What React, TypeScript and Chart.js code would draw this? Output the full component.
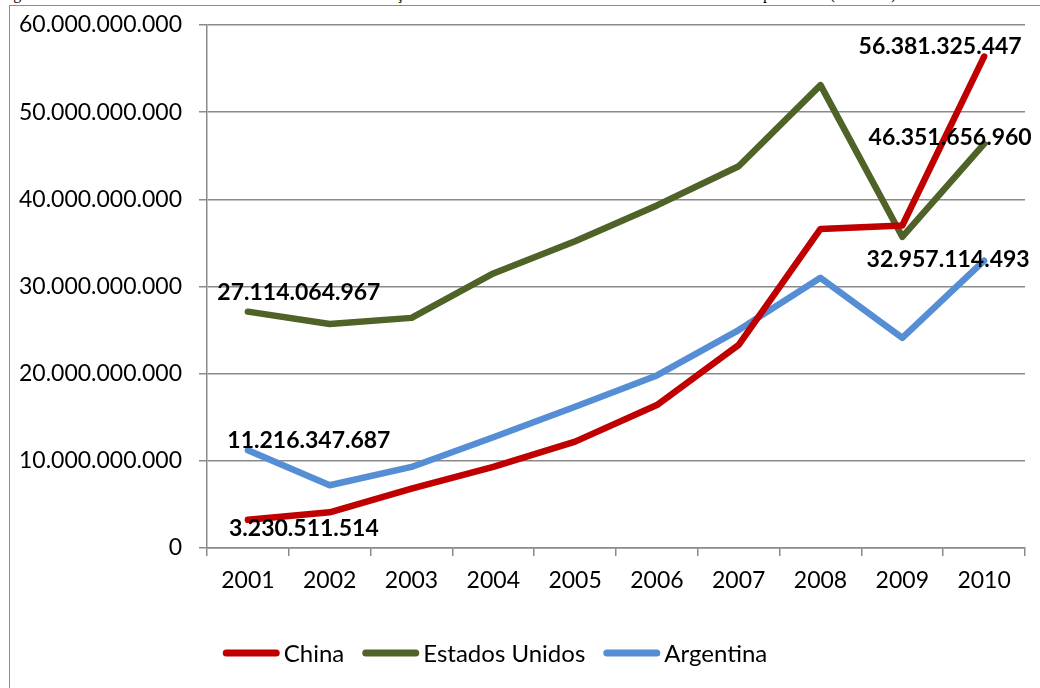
import React, { useEffect, useRef } from "react";
import { Chart, registerables } from "chart.js";

Chart.register(...registerables);

const years = ["2001", "2002", "2003", "2004", "2005", "2006", "2007", "2008", "2009", "2010"];
const china = [3230511514, 4100000000, 6800000000, 9300000000, 12200000000, 16400000000, 23300000000, 36600000000, 37000000000, 56381325447];
const estadosUnidos = [27114064967, 25700000000, 26400000000, 31500000000, 35200000000, 39300000000, 43800000000, 53100000000, 35700000000, 46351656960];
const argentina = [11216347687, 7200000000, 9300000000, 12700000000, 16200000000, 19800000000, 25000000000, 31000000000, 24100000000, 32957114493];
const seriesNames = ["China", "Estados Unidos", "Argentina"];
const seriesColors = ["#C00000", "#4F6228", "#558ED5"];
const yMin = 0;
const yMax = 60000000000;
const yStep = 10000000000;

const FONT = "Lato, 'Open Sans', sans-serif";

const fmt = (v: number) => Math.round(v).toString().replace(/\B(?=(\d{3})+(?!\d))/g, ".");

// label placement offsets (pixels from the point) for the labelled points
const labelOffsets: Record<number, Record<number, [number, number]>> = {
  0: { 0: [56, 9], 9: [-44, -10] },
  1: { 0: [51, -19], 9: [-34, -6] },
  2: { 0: [61, -10], 9: [-36, -1] },
};

const valueLabels = {
  id: "valueLabels",
  afterDatasetsDraw(chart: any) {
    const ctx = chart.ctx;
    ctx.save();
    ctx.font = `bold 23px ${FONT}`;
    ctx.fillStyle = "#000";
    ctx.textAlign = "center";
    ctx.textBaseline = "middle";
    chart.data.datasets.forEach((ds: any, di: number) => {
      const meta = chart.getDatasetMeta(di);
      const offs = labelOffsets[di] || {};
      Object.keys(offs).forEach((k) => {
        const idx = Number(k);
        const el = meta.data[idx];
        if (!el) return;
        const [dx, dy] = offs[idx];
        ctx.fillText(fmt(ds.data[idx]), el.x + dx, el.y + dy);
      });
    });
    ctx.restore();
  },
};

const bottomLegend = {
  id: "bottomLegend",
  afterDraw(chart: any) {
    const ctx = chart.ctx;
    ctx.save();
    ctx.font = `24px ${FONT}`;
    const lineLen = 57;
    const gap = 4;
    const itemGap = 18;
    const cy = 647;
    const cx = 485;
    const items = chart.data.datasets.map((ds: any) => ({
      text: ds.label,
      color: ds.borderColor,
      w: ctx.measureText(ds.label).width,
    }));
    const total = items.reduce((s: number, it: any) => s + lineLen + gap + it.w, 0) + itemGap * (items.length - 1);
    let x = cx - total / 2;
    items.forEach((it: any) => {
      ctx.strokeStyle = it.color;
      ctx.lineWidth = 7;
      ctx.lineCap = "round";
      ctx.beginPath();
      ctx.moveTo(x + 3.5, cy);
      ctx.lineTo(x + lineLen - 3.5, cy);
      ctx.stroke();
      ctx.fillStyle = "#000";
      ctx.textAlign = "left";
      ctx.textBaseline = "middle";
      ctx.fillText(it.text, x + lineLen + gap, cy + 1);
      x += lineLen + gap + it.w + itemGap;
    });
    ctx.restore();
  },
};

export default function App() {
  const ref = useRef<HTMLCanvasElement | null>(null);

  useEffect(() => {
    if (!ref.current) return;
    const seriesData = [china, estadosUnidos, argentina];
    const gridColor = "#8a8a8a";
    const chart = new Chart(ref.current, {
      type: "line",
      data: {
        labels: years,
        datasets: seriesData.map((d, i) => ({
          label: seriesNames[i],
          data: d,
          borderColor: seriesColors[i],
          backgroundColor: seriesColors[i],
          borderWidth: 6.5,
          borderJoinStyle: "round" as const,
          borderCapStyle: "round" as const,
          pointRadius: 0,
          pointHoverRadius: 0,
          tension: 0,
          fill: false,
        })),
      },
      options: {
        animation: false,
        responsive: false,
        devicePixelRatio: 1,
        layout: { autoPadding: false, padding: { top: 19, right: 15, left: 0, bottom: 0 } },
        plugins: {
          legend: { display: false },
          tooltip: { enabled: false },
          title: { display: false },
        },
        scales: {
          x: {
            type: "category",
            offset: true,
            grid: {
              display: true,
              offset: true,
              drawOnChartArea: false,
              drawTicks: true,
              tickLength: 8,
              color: gridColor,
              lineWidth: 1.5,
            },
            border: { display: true, color: gridColor, width: 1.5 },
            ticks: {
              color: "#000",
              font: { family: FONT, size: 23 },
              padding: 11,
              maxRotation: 0,
              autoSkip: false,
            },
            afterFit: (scale: any) => {
              scale.height = 140;
              scale.paddingTop = 0;
              scale.paddingBottom = 0;
            },
          },
          y: {
            min: yMin,
            max: yMax,
            grid: {
              display: true,
              drawTicks: true,
              tickLength: 8,
              color: gridColor,
              lineWidth: 1.5,
            },
            border: { display: true, color: gridColor, width: 1.5 },
            ticks: {
              stepSize: yStep,
              color: "#000",
              font: { family: FONT, size: 23 },
              padding: 17,
              callback: (v: any) => fmt(Number(v)),
            },
            afterFit: (scale: any) => {
              scale.width = 197;
              scale.paddingTop = 0;
              scale.paddingBottom = 0;
            },
          },
        },
      },
      plugins: [valueLabels, bottomLegend],
    });
    return () => chart.destroy();
  }, []);

  return (
    <div style={{ position: "fixed", left: 0, top: 0, width: 1040, height: 688, overflow: "hidden", background: "#fff" }}>
      <div
        style={{
          position: "absolute",
          left: 0,
          top: -15,
          whiteSpace: "nowrap",
          fontFamily: "'Liberation Serif', 'Times New Roman', serif",
          fontSize: 16,
          wordSpacing: 4,
          color: "#000",
        }}
      >
        Figura 1 – Valor total das vendas brasileiras e sua evolução durante 2001 a 2010 nos três mercados mais importantes (em US$)
      </div>
      <div
        style={{
          position: "absolute",
          left: 9,
          top: 5,
          width: 1100,
          height: 760,
          border: "1px solid #8c8c8c",
          background: "#fff",
        }}
      />
      <canvas
        ref={ref}
        width={1030}
        height={682}
        style={{ position: "absolute", left: 10, top: 6, width: 1030, height: 682 }}
      />
    </div>
  );
}
